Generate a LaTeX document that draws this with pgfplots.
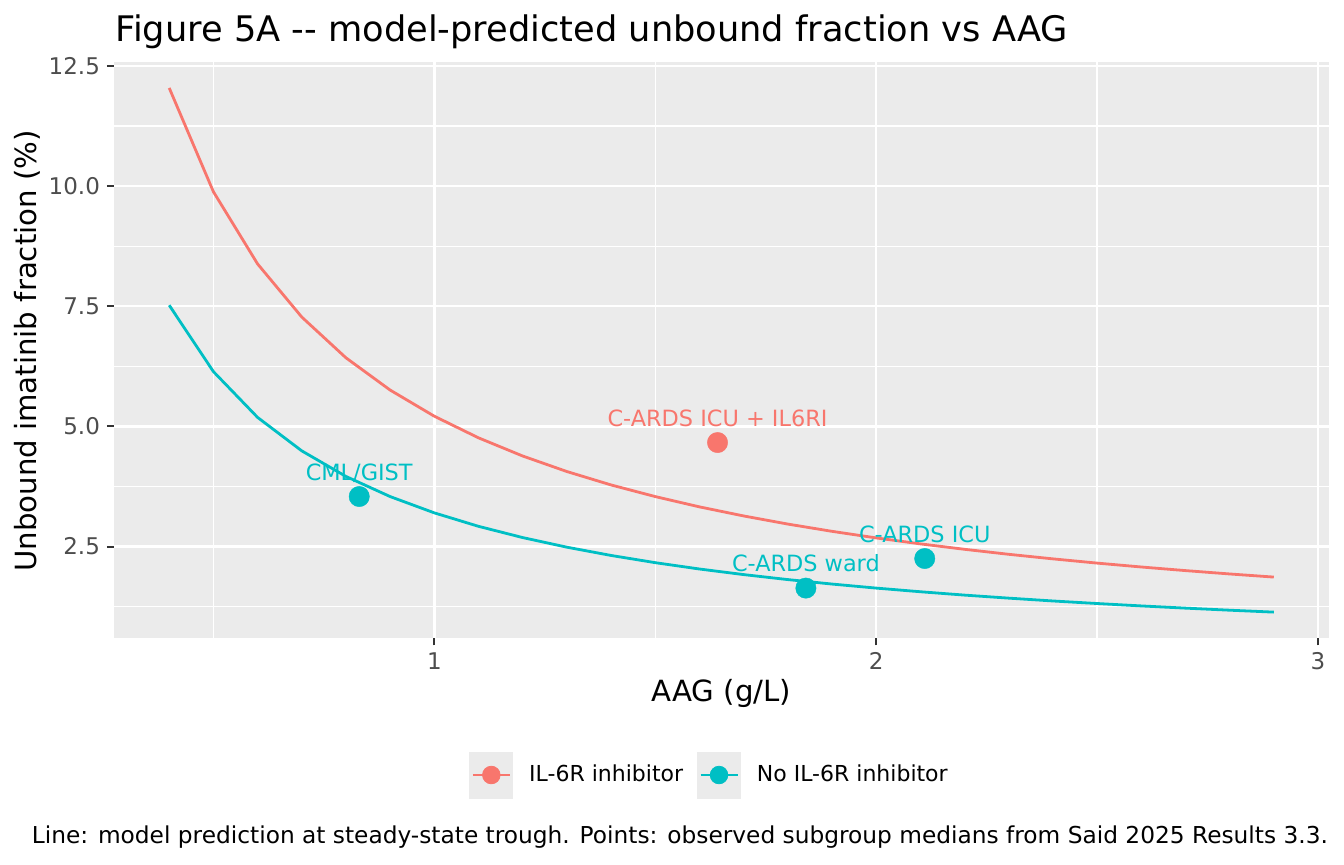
\documentclass[border=0pt]{standalone}
\usepackage{fontspec}
\setmainfont{DejaVu Sans}
\usepackage{pgfplots}
\pgfplotsset{compat=1.18}
\definecolor{cred}{HTML}{F8766D}
\definecolor{cteal}{HTML}{00BFC4}
\definecolor{panelbg}{HTML}{EBEBEB}
\definecolor{ticklab}{HTML}{4D4D4D}
\definecolor{tickcol}{HTML}{333333}
\pgfplotstableread{
x y
0.4 12.04
0.5 9.881
0.6 8.379
0.7 7.274
0.8 6.426
0.9 5.755
1.0 5.211
1.1 4.761
1.2 4.383
1.3 4.060
1.4 3.781
1.5 3.539
1.6 3.325
1.7 3.136
1.8 2.967
1.9 2.816
2.0 2.679
2.1 2.555
2.2 2.442
2.3 2.338
2.4 2.243
2.5 2.155
2.6 2.074
2.7 1.999
2.8 1.929
2.9 1.864
}\redcurve
\pgfplotstableread{
x y
0.4 7.520
0.5 6.139
0.6 5.186
0.7 4.490
0.8 3.958
0.9 3.539
1.0 3.200
1.1 2.920
1.2 2.686
1.3 2.486
1.4 2.314
1.5 2.164
1.6 2.032
1.7 1.916
1.8 1.812
1.9 1.719
2.0 1.635
2.1 1.559
2.2 1.489
2.3 1.426
2.4 1.367
2.5 1.314
2.6 1.264
2.7 1.218
2.8 1.175
2.9 1.135
}\tealcurve
\begin{document}
\begin{tikzpicture}
\path[use as bounding box] (0,0) rectangle (672pt,-432pt);
\begin{axis}[
  at={(57pt,-319.15pt)}, anchor=south west,
  width=607.5pt, height=288.15pt, scale only axis,
  xmin=0.275, xmax=3.025, ymin=0.59, ymax=12.58,
  axis background/.style={fill=panelbg},
  axis line style={draw=none},
  xtick={1,2,3}, ytick={2.5,5,7.5,10,12.5},
  minor xtick={0.5,1.5,2.5},
  minor ytick={1.25,3.75,6.25,8.75,11.25},
  grid=both,
  major grid style={white, line width=1.2pt},
  minor grid style={white, line width=0.6pt},
  tick pos=left, tick align=outside,
  major tick length=3.5pt, minor tick length=0pt,
  tick style={color=tickcol, line width=1pt},
  /pgf/number format/assume math mode=true,
  ticklabel style={font=\fontsize{11.5}{13}\selectfont, color=ticklab},
  yticklabel style={/pgf/number format/.cd, fixed, fixed zerofill, precision=1},
  xticklabel style={/pgf/number format/.cd, fixed, precision=0},
  legend columns=2,
  legend cell align=left,
  legend style={at={(axis description cs:0.2922,-0.2372)}, anchor=west,
    draw=none, fill=none, inner sep=0pt,
    font=\fontsize{11}{13}\selectfont,
    nodes={inner sep=0pt},
    /tikz/every odd column/.append style={column sep=8pt},
    /tikz/every even column/.append style={column sep=7pt}},
  legend image code/.code={
    \fill[panelbg] (0pt,-11.5pt) rectangle (21.5pt,11.5pt);
    \draw[#1, line width=1.2pt] (1.5pt,0pt) -- (20pt,0pt);
    \fill[#1] (10.75pt,0pt) circle (4.4pt);
  },
]
\addplot[forget plot, cred, line width=1.4pt] table[x=x,y=y] {\redcurve};
\addplot[forget plot, cteal, line width=1.4pt] table[x=x,y=y] {\tealcurve};
\addplot[forget plot, cred, only marks, mark=*, mark size=5.1pt, mark options={draw=cred, fill=cred, line width=0.2pt}] coordinates {(1.641,4.663)};
\addplot[forget plot, cteal, only marks, mark=*, mark size=5.1pt, mark options={draw=cteal, fill=cteal, line width=0.2pt}] coordinates {(0.830,3.540) (1.841,1.635) (2.110,2.250)};
\node[anchor=base, yshift=8pt, font=\fontsize{11.2}{13}\selectfont, text=cred, inner sep=0pt] at (axis cs:1.641,4.663) {C-ARDS ICU + IL6RI};
\node[anchor=base, yshift=8pt, font=\fontsize{11.2}{13}\selectfont, text=cteal, inner sep=0pt] at (axis cs:0.830,3.540) {CML/GIST};
\node[anchor=base, yshift=8.2pt, font=\fontsize{11.2}{13}\selectfont, text=cteal, inner sep=0pt] at (axis cs:1.841,1.635) {C-ARDS ward};
\node[anchor=base, yshift=8.2pt, font=\fontsize{11.2}{13}\selectfont, text=cteal, inner sep=0pt] at (axis cs:2.110,2.250) {C-ARDS ICU};
\addlegendimage{cred}
\addlegendentry{IL-6R inhibitor}
\addlegendimage{cteal}
\addlegendentry{No IL-6R inhibitor}
\end{axis}
\node[anchor=base west, inner sep=0pt, font=\fontsize{17.6}{20}\selectfont] at (57.5pt,-20.85pt) {Figure 5A {-}{-} model-predicted unbound fraction vs AAG};
\node[anchor=base, rotate=90, inner sep=0pt, font=\fontsize{14.6}{17}\selectfont] at (18pt,-175.5pt) {Unbound imatinib fraction (\%)};
\node[anchor=base, inner sep=0pt, font=\fontsize{14.6}{17}\selectfont] at (360.75pt,-350.85pt) {AAG (g/L)};
\node[anchor=base east, inner sep=0pt, font=\fontsize{11.64}{14}\selectfont] at (664.15pt,-421.65pt) {Line: model prediction at steady-state trough. Points: observed subgroup medians from Said 2025 Results 3.3.};
\end{tikzpicture}
\end{document}
